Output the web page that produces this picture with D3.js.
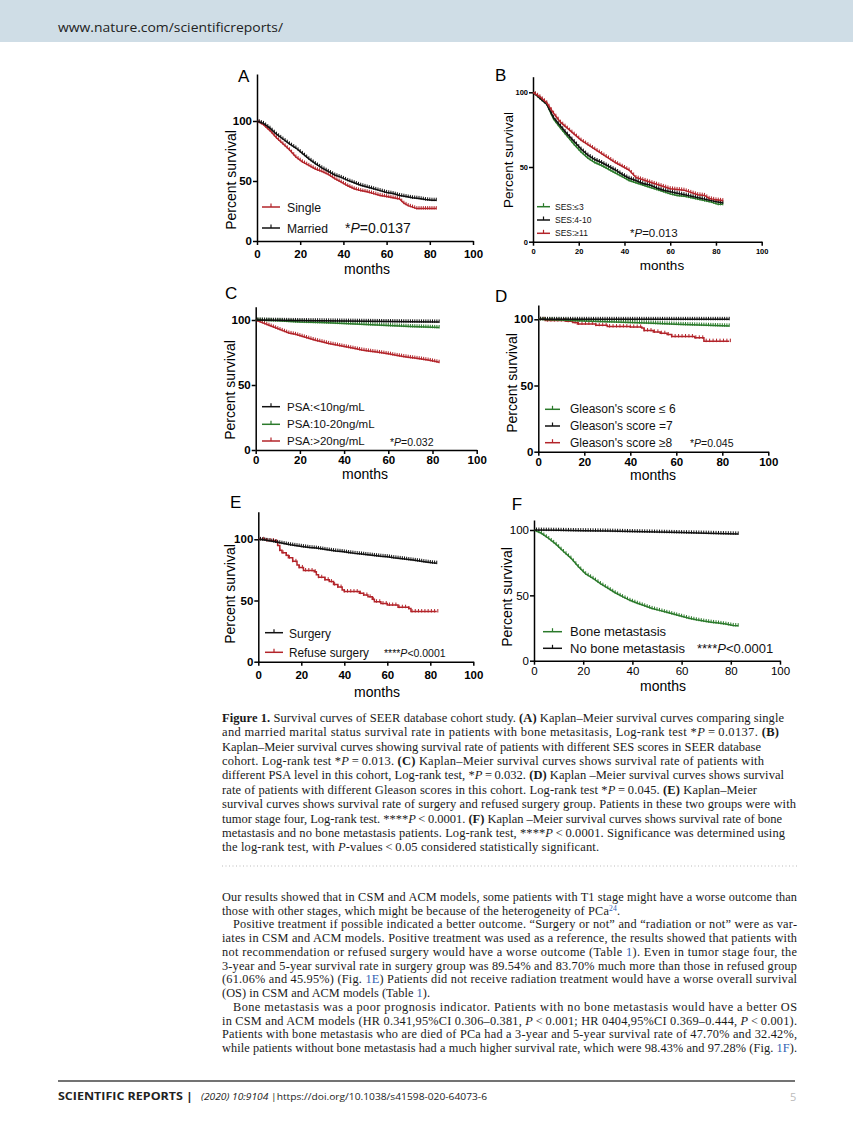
<!DOCTYPE html>
<html>
<head>
<meta charset="utf-8">
<script src="https://cdn.jsdelivr.net/npm/d3@7"></script>
<style>
body { margin: 0; background: #fff; }
svg { display: block; }
</style>
</head>
<body>
<svg id="page" width="853" height="1122"></svg>
<script>
// ---- data ----
var monthTicks = [0, 20, 40, 60, 80, 100];
var survTicks = [0, 50, 100];

// A: marital status
var aMarried = [[0,100],[3,98],[6,94],[9,89],[12,85],[15,81],[18,77.5],[21,73],[24,68.5],[27,64.5],[30,61],[33,58],[36,55],[39,53],[42,50.5],[45,48.5],[48,46.5],[51,45],[54,43.5],[57,42],[60,40.5],[63,39.5],[66,38],[69,37],[72,36],[75,35.5],[78,34.5],[81,34],[83,34]];
var aSingle = [[0,100],[3,97],[6,92],[9,86],[12,81],[15,76],[18,70],[21,66],[24,63],[27,60],[30,58],[33,55.5],[36,52],[39,49],[42,46],[45,43.5],[48,42],[51,41],[54,39.5],[57,38],[60,37],[63,36],[66,35],[68,31.5],[70,29.5],[74,27],[83,27]];

// B: SES score
var bLow = [[0,100],[3,96],[6,92],[9,82],[12,76],[15,70.5],[18,65],[21,60],[24,56],[27,53],[30,51],[33,48.5],[36,46],[39,43.5],[42,41],[45,39.5],[48,38],[51,36.5],[54,35],[57,33.5],[60,32],[63,31],[66,30.5],[69,29.5],[72,28.5],[75,27.5],[78,26.5],[81,25],[83,25]];
var bMid = [[0,100],[3,96],[6,92],[9,83],[12,77.5],[15,72],[18,67],[21,62],[24,58],[27,55],[30,53],[33,50.5],[36,48],[39,45],[42,42.5],[45,41],[48,39],[51,38],[54,36],[57,34.5],[60,33.5],[63,32.5],[66,31.5],[69,30.5],[72,29.5],[75,28.5],[78,27.5],[81,26.5],[83,26]];
var bHigh = [[0,100],[3,97],[6,93],[9,86],[12,80],[15,76],[18,72],[21,68],[24,65],[27,62],[30,59],[33,56],[36,53],[39,50.5],[42,48],[45,43],[48,41.5],[51,40],[54,38.5],[57,37],[60,35.5],[63,35],[66,34.5],[69,33],[72,31.5],[75,31],[77,29],[80,28],[83,27.5]];

// C: PSA level
var cLow = [[0,100],[10,99.8],[20,99.6],[30,99.4],[40,99.2],[50,99],[60,98.8],[70,98.6],[83,98.5]];
var cMid = [[0,100],[10,99.5],[20,98.5],[30,98],[40,97.4],[50,96.6],[60,95.8],[70,95],[80,94.4],[83,94.2]];
var cHigh = [[0,100],[3,98],[6,96],[9,94],[12,92],[15,90],[18,89],[21,87.5],[24,86],[27,84.5],[30,83.3],[33,82],[36,81],[39,80],[42,79],[45,78],[48,77],[51,76.2],[54,75.5],[57,74.8],[60,74],[63,73],[66,72.2],[69,71.4],[72,70.7],[75,70],[78,69.2],[81,68.2],[83,67.5]];

// D: Gleason score
var dLow = [[0,100],[10,99.5],[20,98.8],[30,98.2],[40,97.6],[50,97],[60,96.3],[70,95.7],[83,95]];
var dSeven = [[0,100],[20,100],[40,100],[60,100],[83,100]];
var dHigh = [[0,100],[3,99],[12,98.5],[15,97.5],[17,96.5],[25,95.5],[30,94.5],[40,94.2],[45,93.5],[46,91.5],[50,90.5],[53,89.5],[56,88.5],[58,87],[68,86],[72,83.5],[83,83.5]];

// E: surgery
var eSurgery = [[0,100],[3,99.5],[6,98.5],[9,97.5],[12,96.5],[15,95.5],[18,94.8],[21,94],[24,93.3],[27,92.8],[30,92],[33,91.2],[36,90.5],[39,90],[42,89.2],[45,88.5],[48,88],[51,87.4],[54,86.8],[57,86.2],[60,85.8],[63,85],[66,84.4],[69,83.7],[72,83],[75,82.3],[78,81.5],[81,80.8],[83,80.5]];
var eRefuse = [[0,100],[4,99],[8,98],[9,95],[10,91],[11,89],[13,87],[14,85],[16,82],[18,79],[19,77],[21,74.5],[26,73.5],[27,71],[28,69],[31,67],[33,65.5],[35,63],[37,61],[39,58.5],[40,57.3],[47,56],[49,54.5],[51,53],[53,51],[54,49],[57,47.5],[60,46.3],[64,46.3],[65,44.5],[70,43.5],[71,41],[83,41]];

// F: bone metastasis
var fBone = [[0,100],[3,97.5],[6,93.5],[9,89],[12,83.5],[15,78.5],[18,72],[21,66.5],[24,63],[27,59],[30,55.5],[33,52],[36,49],[39,46.2],[42,44],[45,42],[48,40],[51,38.5],[54,37],[57,35.5],[60,34],[63,32.5],[66,31.3],[69,30.3],[72,29.5],[75,28.8],[78,28],[81,27],[83,26.8]];
var fNoBone = [[0,100],[10,99.8],[20,99.5],[30,99.2],[40,98.8],[50,98.4],[60,98],[70,97.6],[83,97]];

var RED = "#b3242a", GREEN = "#2b7a2b", BLACK = "#111";

var panels = [
  {label:"A", x0:257, x1:473, y0:241, y100:121, top:74, lab:[238,82],
   tick:{size:11.5, weight:"bold", pad:5}, ylab:[231,180,14], months:[367,274,14],
   series:[{d:aSingle, c:RED, step:false}, {d:aMarried, c:BLACK, step:false}],
   legend:{x1:262, x2:280, tx:287, ys:[207,228], size:13.5, dy:5,
     items:[["Single",RED,34],["Married",BLACK,41]]},
   p:{pre:"*", post:"=0.0137", x:345, y:233, size:14}},
  {label:"B", x0:533, x1:761.7, y0:241.7, y100:92.3, top:76.7, lab:[495,80.7],
   tick:{size:7.5, weight:"bold", pad:3}, ylab:[508,160,13.5], months:[662,270,13.5],
   series:[{d:bLow, c:GREEN, step:false}, {d:bMid, c:BLACK, step:false}, {d:bHigh, c:RED, step:false}],
   legend:{x1:537, x2:550, tx:555, ys:[206.7,220,233.3], size:8.5, dy:3,
     items:[["SES:\u22643",GREEN,0],["SES:4-10",BLACK,0],["SES:\u226511",RED,0]]},
   p:{pre:"*", post:"=0.013", x:630, y:236.7, size:11.5}},
  {label:"C", x0:255.7, x1:476.7, y0:450, y100:320, top:306.7, lab:[225,299],
   tick:{size:11.5, weight:"bold", pad:2}, ylab:[230,390,14], months:[365,479,14],
   series:[{d:cHigh, c:RED, step:false}, {d:cMid, c:GREEN, step:false}, {d:cLow, c:BLACK, step:false}],
   legend:{x1:262, x2:280, tx:287, ys:[406.7,424.3,441], size:11.5, dy:4,
     items:[["PSA:<10ng/mL",BLACK,0],["PSA:10-20ng/mL",GREEN,0],["PSA:>20ng/mL",RED,0]]},
   p:{pre:"*", post:"=0.032", x:390, y:446, size:10.5}},
  {label:"D", x0:538.3, x1:768.3, y0:451.7, y100:319.3, top:305, lab:[495,301.7],
   tick:{size:11.5, weight:"bold", pad:2}, ylab:[512,383,14], months:[653,480,14],
   series:[{d:dHigh, c:RED, step:true}, {d:dLow, c:GREEN, step:false}, {d:dSeven, c:BLACK, step:false}],
   legend:{x1:545, x2:560, tx:570, ys:[409.3,426,442.7], size:12, dy:4,
     items:[["Gleason's score \u2264 6",GREEN,0],["Gleason's score =7",BLACK,0],["Gleason's score \u22658",RED,0]]},
   p:{pre:"*", post:"=0.045", x:690, y:447, size:10.5}},
  {label:"E", x0:258.3, x1:473.3, y0:661.7, y100:539.3, top:511.7, lab:[230,508],
   tick:{size:11.5, weight:"bold", pad:5}, ylab:[230,594,14], months:[377,697,14],
   series:[{d:eRefuse, c:RED, step:true}, {d:eSurgery, c:BLACK, step:false}],
   legend:{x1:265, x2:283, tx:289, ys:[632.7,652.3], size:13.5, dy:5,
     items:[["Surgery",BLACK,42],["Refuse surgery",RED,80]]},
   p:{pre:"****", post:"<0.0001", x:384, y:656.7, size:10.5}},
  {label:"F", x0:534, x1:780, y0:660.7, y100:530, top:520, lab:[511.7,510],
   tick:{size:11.5, weight:"normal", pad:2}, ylab:[507,597,14], months:[663,691,14],
   series:[{d:fBone, c:GREEN, step:false}, {d:fNoBone, c:BLACK, step:false}],
   legend:{x1:543, x2:562, tx:570, ys:[631.7,648.3], size:13, dy:4.5,
     items:[["Bone metastasis",GREEN,0],["No bone metastasis",BLACK,0]]},
   p:{pre:"****", post:"<0.0001", x:697, y:653, size:13}}
];

// ---- text of the page ----
var captionLines = [
  [["Figure 1.","b"], "  Survival curves of SEER database cohort study. ", ["(A)","b"], " Kaplan\u2013Meier survival curves comparing single"],
  ["and married marital status survival rate in patients with bone metasitasis, Log-rank test *", ["P","i"], "\u2009=\u20090.0137. ", ["(B)","b"]],
  ["Kaplan\u2013Meier survival curves showing survival rate of patients with different SES scores in SEER database"],
  ["cohort. Log-rank test *", ["P","i"], "\u2009=\u20090.013. ", ["(C)","b"], " Kaplan\u2013Meier survival curves shows survival rate of patients with"],
  ["different PSA level in this cohort, Log-rank test, *", ["P","i"], "\u2009=\u20090.032. ", ["(D)","b"], " Kaplan \u2013Meier survival curves shows survival"],
  ["rate of patients with different Gleason scores in this cohort. Log-rank test *", ["P","i"], "\u2009=\u20090.045. ", ["(E)","b"], " Kaplan\u2013Meier"],
  ["survival curves shows survival rate of surgery and refused surgery group. Patients in these two groups were with"],
  ["tumor stage four, Log-rank test. ****", ["P","i"], "\u2009<\u20090.0001. ", ["(F)","b"], " Kaplan \u2013Meier survival curves shows survival rate of bone"],
  ["metastasis and no bone metastasis patients. Log-rank test, ****", ["P","i"], "\u2009<\u20090.0001. Significance was determined using"],
  ["the log-rank test, with ", ["P","i"], "-values\u2009<\u20090.05 considered statistically significant."]
];
var captionEnds = [784, 779, 761, 764, 784, 757, 796, 782, 785, 599];

var bodyLines = [
  ["Our results showed that in CSM and ACM models, some patients with T1 stage might have a worse outcome than"],
  ["those with other stages, which might be because of the heterogeneity of PCa", ["24","s"], "."],
  ["Positive treatment if possible indicated a better outcome. \u201cSurgery or not\u201d and \u201cradiation or not\u201d were as var-"],
  ["iates in CSM and ACM models. Positive treatment was used as a reference, the results showed that patients with"],
  ["not recommendation or refused surgery would have a worse outcome (Table ", ["1","l"], "). Even in tumor stage four, the"],
  ["3-year and 5-year survival rate in surgery group was 89.54% and 83.70% much more than those in refused group"],
  ["(61.06% and 45.95%) (Fig. ", ["1E","l"], ") Patients did not receive radiation treatment would have a worse overall survival"],
  ["(OS) in CSM and ACM models (Table ", ["1","l"], ")."],
  ["Bone metastasis was a poor prognosis indicator. Patients with no bone metastasis would have a better OS"],
  ["in CSM and ACM models (HR 0.341,95%CI 0.306\u20130.381, ", ["P","i"], "\u2009<\u20090.001; HR 0404,95%CI 0.369\u20130.444, ", ["P","i"], "\u2009<\u20090.001)."],
  ["Patients with bone metastasis who are died of PCa had a 3-year and 5-year survival rate of 47.70% and 32.42%,"],
  ["while patients without bone metastasis had a much higher survival rate, which were 98.43% and 97.28% (Fig. ", ["1F","l"], ")."]
];
var bodyIndent = [0, 0, 1, 0, 0, 0, 0, 0, 1, 0, 0, 0];
var bodyEnds = [797, 620, 797, 797, 797, 797, 797, 430, 797, 797, 797, 797];

var SANS = "'Liberation Sans', Arial, sans-serif";
var SERIF = "'Liberation Serif', 'Times New Roman', serif";

var svg = d3.select("#page");

// header band
svg.append("rect").attr("x",0).attr("y",0).attr("width",853).attr("height",42).attr("fill","#cfdde6");
svg.append("text").attr("x",58).attr("y",32).attr("font-family","'Open Sans', sans-serif")
  .attr("font-size",12.5).attr("fill","#222").attr("textLength",225).attr("lengthAdjust","spacingAndGlyphs")
  .text("www.nature.com/scientificreports/");

function valueAt(s, m) {
  var d = s.d;
  for (var i = 0; i < d.length - 1; i++) {
    if (m >= d[i][0] && m < d[i+1][0]) {
      if (s.step) return d[i][1];
      var t = (m - d[i][0]) / (d[i+1][0] - d[i][0]);
      return d[i][1] + t * (d[i+1][1] - d[i][1]);
    }
  }
  return d[d.length-1][1];
}

function drawPanel(p) {
  var g = svg.append("g");
  var yMax = 100 * (p.y0 - p.top) / (p.y0 - p.y100);
  var x = d3.scaleLinear().domain([0,100]).range([p.x0, p.x1]);
  var y = d3.scaleLinear().domain([0,yMax]).range([p.y0, p.top]);

  var xAxis = d3.axisBottom(x).tickValues(monthTicks).tickSize(4).tickSizeOuter(0).tickPadding(p.tick.pad);
  var yAxis = d3.axisLeft(y).tickValues(survTicks).tickSize(4).tickSizeOuter(0).tickPadding(1);

  var gx = g.append("g").attr("transform","translate(0,"+p.y0+")").call(xAxis);
  var gy = g.append("g").attr("transform","translate("+p.x0+",0)").call(yAxis);
  [gx, gy].forEach(function(a){
    a.select(".domain").attr("stroke","#000").attr("stroke-width",1.5);
    a.selectAll(".tick line").attr("stroke","#000").attr("stroke-width",1.5);
    a.selectAll(".tick text").attr("fill","#000").attr("font-family",SANS)
      .attr("font-size",p.tick.size).attr("font-weight",p.tick.weight);
  });

  // curves
  p.series.forEach(function(s){
    var line = d3.line().x(function(d){return x(d[0]);}).y(function(d){return y(d[1]);})
      .curve(s.step ? d3.curveStepAfter : d3.curveLinear);
    g.append("path").datum(s.d).attr("d",line).attr("fill","none")
      .attr("stroke",s.c).attr("stroke-width",1.5);
    // censor marks along the curve
    var last = s.d[s.d.length-1][0];
    var marks = d3.range(1, last + 1, s.step ? 1.5 : 1);
    g.selectAll(null).data(marks).enter().append("line")
      .attr("x1",function(m){return x(m);}).attr("x2",function(m){return x(m);})
      .attr("y1",function(m){return y(valueAt(s,m)) - 2.5;})
      .attr("y2",function(m){return y(valueAt(s,m)) + 1;})
      .attr("stroke",s.c).attr("stroke-width",1);
  });

  // panel letter
  g.append("text").attr("x",p.lab[0]).attr("y",p.lab[1]).attr("font-family",SANS)
    .attr("font-size",17).text(p.label);

  // axis titles
  g.append("text").attr("transform","translate("+p.ylab[0]+","+p.ylab[1]+") rotate(-90)")
    .attr("text-anchor","middle").attr("dy","0.35em").attr("font-family",SANS)
    .attr("font-size",p.ylab[2]).text("Percent survival");
  g.append("text").attr("x",p.months[0]).attr("y",p.months[1]).attr("text-anchor","middle")
    .attr("font-family",SANS).attr("font-size",p.months[2]).text("months");

  // legend
  var L = p.legend;
  L.items.forEach(function(it, i){
    var yy = L.ys[i];
    g.append("line").attr("x1",L.x1).attr("x2",L.x2).attr("y1",yy).attr("y2",yy)
      .attr("stroke",it[1]).attr("stroke-width",1.5);
    var mx = (L.x1 + L.x2) / 2;
    g.append("line").attr("x1",mx).attr("x2",mx).attr("y1",yy-3.5).attr("y2",yy)
      .attr("stroke",it[1]).attr("stroke-width",1.2);
    var tt = g.append("text").attr("x",L.tx).attr("y",yy+L.dy).attr("font-family",SANS)
      .attr("font-size",L.size).attr("fill","#111").text(it[0]);
    if (it[2]) tt.attr("textLength",it[2]).attr("lengthAdjust","spacingAndGlyphs");
  });

  // p value
  var pt = g.append("text").attr("x",p.p.x).attr("y",p.p.y).attr("font-family",SANS)
    .attr("font-size",p.p.size).attr("fill","#111");
  pt.append("tspan").text(p.p.pre);
  pt.append("tspan").attr("font-style","italic").text("P");
  pt.append("tspan").text(p.p.post);
}

panels.forEach(drawPanel);

// running text
function drawTextLine(x, yb, segs, width, size) {
  var t = svg.append("text").attr("x",x).attr("y",yb).attr("font-family",SERIF)
    .attr("font-size",size).attr("fill","#1a1a1a")
    .attr("textLength",width).attr("lengthAdjust","spacing");
  segs.forEach(function(sg){
    if (typeof sg === "string") { t.append("tspan").text(sg); return; }
    var ts = t.append("tspan").text(sg[0]);
    if (sg[1] === "b") ts.attr("font-weight","bold");
    if (sg[1] === "i") ts.attr("font-style","italic");
    if (sg[1] === "l") ts.attr("fill","#2f5fb3");
    if (sg[1] === "s") ts.attr("font-size",size*0.62).attr("baseline-shift","super").attr("fill","#2f5fb3");
  });
}

captionLines.forEach(function(segs, i){
  drawTextLine(222, 721.7 + i*14.4, segs, captionEnds[i] - 222, 12.5);
});

svg.append("line").attr("x1",222).attr("x2",797).attr("y1",866).attr("y2",866)
  .attr("stroke","#bbb").attr("stroke-width",1).attr("stroke-dasharray","1,2.5");

bodyLines.forEach(function(segs, i){
  var x0 = bodyIndent[i] ? 233 : 222;
  drawTextLine(x0, 901 + i*13.73, segs, bodyEnds[i] - x0, 12.3);
});

// footer
svg.append("line").attr("x1",58).attr("x2",795).attr("y1",1081).attr("y2",1081)
  .attr("stroke","#444").attr("stroke-width",1.6);
svg.append("text").attr("x",58).attr("y",1100).attr("font-family","'Open Sans', sans-serif")
  .attr("font-size",10.5).attr("font-weight","bold").attr("fill","#222")
  .attr("textLength",135).attr("lengthAdjust","spacingAndGlyphs").text("SCIENTIFIC REPORTS |");
var ft = svg.append("text").attr("x",201).attr("y",1100).attr("font-family","'Open Sans', sans-serif")
  .attr("font-size",9.5).attr("fill","#222").attr("textLength",286).attr("lengthAdjust","spacingAndGlyphs");
ft.append("tspan").attr("font-style","italic").text("(2020) 10:9104");
ft.append("tspan").text(" |https://doi.org/10.1038/s41598-020-64073-6");
svg.append("text").attr("x",790).attr("y",1101).attr("font-family","'Open Sans', sans-serif")
  .attr("font-size",11).attr("fill","#bbb").text("5");
</script>
</body>
</html>
